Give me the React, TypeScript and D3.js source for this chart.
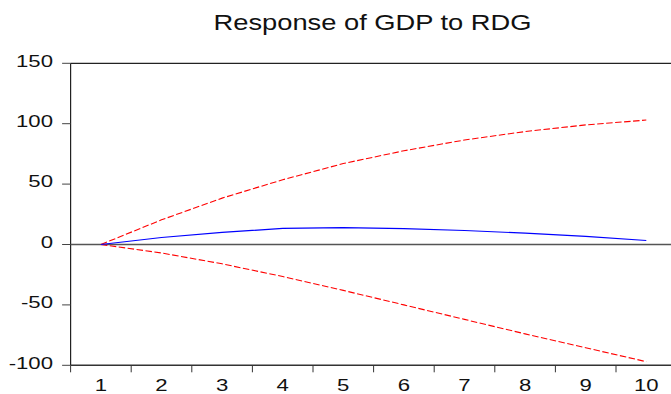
import React, { useEffect, useRef } from "react";
import * as d3 from "d3";

// impulse response periods and values
const periods = [1, 2, 3, 4, 5, 6, 7, 8, 9, 10];
const response = [0, 5.8, 10, 13.3, 14, 13.2, 11.6, 9.4, 6.7, 3.3];
const upperBand = [0, 20.4, 38.4, 53.6, 67, 77.6, 86.5, 93.5, 99, 103];
const lowerBand = [0, -7, -16, -26.5, -38, -50, -62, -74, -85.5, -97];
const yTicks = [-100, -50, 0, 50, 100, 150];
const title = "Response of GDP to RDG";

const W = 671;
const H = 394;
// the source picture is stretched sideways, so text gets widened too
const STRETCH = 1.32;

const ImpulseChart = () => {
  const ref = useRef<SVGSVGElement | null>(null);

  useEffect(() => {
    const svg = d3.select(ref.current);
    svg.selectAll("*").remove();

    const left = 70.6;
    const right = 676.6;
    const top = 63.3;
    const bottom = 365.3;

    const x = d3
      .scaleBand<number>()
      .domain(periods)
      .range([left, right])
      .padding(0);
    const cx = (p: number) => (x(p) as number) + x.bandwidth() / 2;
    const y = d3.scaleLinear().domain([-100, 150]).range([bottom, top]);

    const font = "'Liberation Sans', Arial, sans-serif";

    // frame: top, left, bottom
    svg
      .append("line")
      .attr("x1", left)
      .attr("x2", W)
      .attr("y1", top)
      .attr("y2", top)
      .attr("stroke", "#222")
      .attr("stroke-width", 1.2);
    svg
      .append("line")
      .attr("x1", left)
      .attr("x2", left)
      .attr("y1", top)
      .attr("y2", bottom)
      .attr("stroke", "#222")
      .attr("stroke-width", 1.2);
    svg
      .append("line")
      .attr("x1", left)
      .attr("x2", W)
      .attr("y1", bottom)
      .attr("y2", bottom)
      .attr("stroke", "#333")
      .attr("stroke-width", 1.4);

    // zero line
    svg
      .append("line")
      .attr("x1", left)
      .attr("x2", W)
      .attr("y1", y(0))
      .attr("y2", y(0))
      .attr("stroke", "#555")
      .attr("stroke-width", 1.3);

    // y ticks and labels
    const yg = svg.append("g");
    yg.selectAll("line")
      .data(yTicks)
      .join("line")
      .attr("x1", left - 8.5)
      .attr("x2", left)
      .attr("y1", (d) => y(d))
      .attr("y2", (d) => y(d))
      .attr("stroke", "#444")
      .attr("stroke-width", 1);
    yg.selectAll("text")
      .data(yTicks)
      .join("text")
      .attr("class", "stretch")
      .attr("x", 53)
      .attr("y", (d) => y(d))
      .attr("dy", "0.2em")
      .attr("text-anchor", "end")
      .attr("font-family", font)
      .attr("font-size", 16.8)
      .attr("fill", "#111")
      .text((d) => d);

    // x ticks at band edges, labels at band centres
    const xg = svg.append("g");
    xg.selectAll("line")
      .data(periods)
      .join("line")
      .attr("x1", (d) => x(d) as number)
      .attr("x2", (d) => x(d) as number)
      .attr("y1", bottom)
      .attr("y2", bottom + 7)
      .attr("stroke", "#333")
      .attr("stroke-width", 1);
    xg.selectAll("text")
      .data(periods)
      .join("text")
      .attr("class", "stretch")
      .attr("x", (d) => cx(d))
      .attr("y", 390.5)
      .attr("text-anchor", "middle")
      .attr("font-family", font)
      .attr("font-size", 16.8)
      .attr("fill", "#111")
      .text((d) => d);

    // series
    const line = d3
      .line<number>()
      .x((_, i) => cx(periods[i]))
      .y((d) => y(d));

    svg
      .append("path")
      .datum(upperBand)
      .attr("fill", "none")
      .attr("stroke", "#ff0000")
      .attr("stroke-width", 1.1)
      .attr("stroke-dasharray", "6.5,2.5")
      .attr("d", line);
    svg
      .append("path")
      .datum(lowerBand)
      .attr("fill", "none")
      .attr("stroke", "#ff0000")
      .attr("stroke-width", 1.1)
      .attr("stroke-dasharray", "6.5,2.5")
      .attr("d", line);
    svg
      .append("path")
      .datum(response)
      .attr("fill", "none")
      .attr("stroke", "#0000ff")
      .attr("stroke-width", 1.2)
      .attr("d", line);

    // title
    svg
      .append("text")
      .attr("x", 372.5)
      .attr("y", 30)
      .attr("text-anchor", "middle")
      .attr("font-family", font)
      .attr("font-size", 21.5)
      .attr("fill", "#111")
      .attr("textLength", 318)
      .attr("lengthAdjust", "spacingAndGlyphs")
      .text(title);

    // widen the tick labels the same way
    svg.selectAll<SVGTextElement, unknown>("text.stretch").each(function () {
      const len = this.getComputedTextLength();
      d3.select(this)
        .attr("textLength", len * STRETCH)
        .attr("lengthAdjust", "spacingAndGlyphs");
    });
  }, []);

  return (
    <svg
      ref={ref}
      width={W}
      height={H}
      style={{ position: "fixed", left: 0, top: 0, background: "#fff" }}
    ></svg>
  );
};

export default function App() {
  return <ImpulseChart />;
}
